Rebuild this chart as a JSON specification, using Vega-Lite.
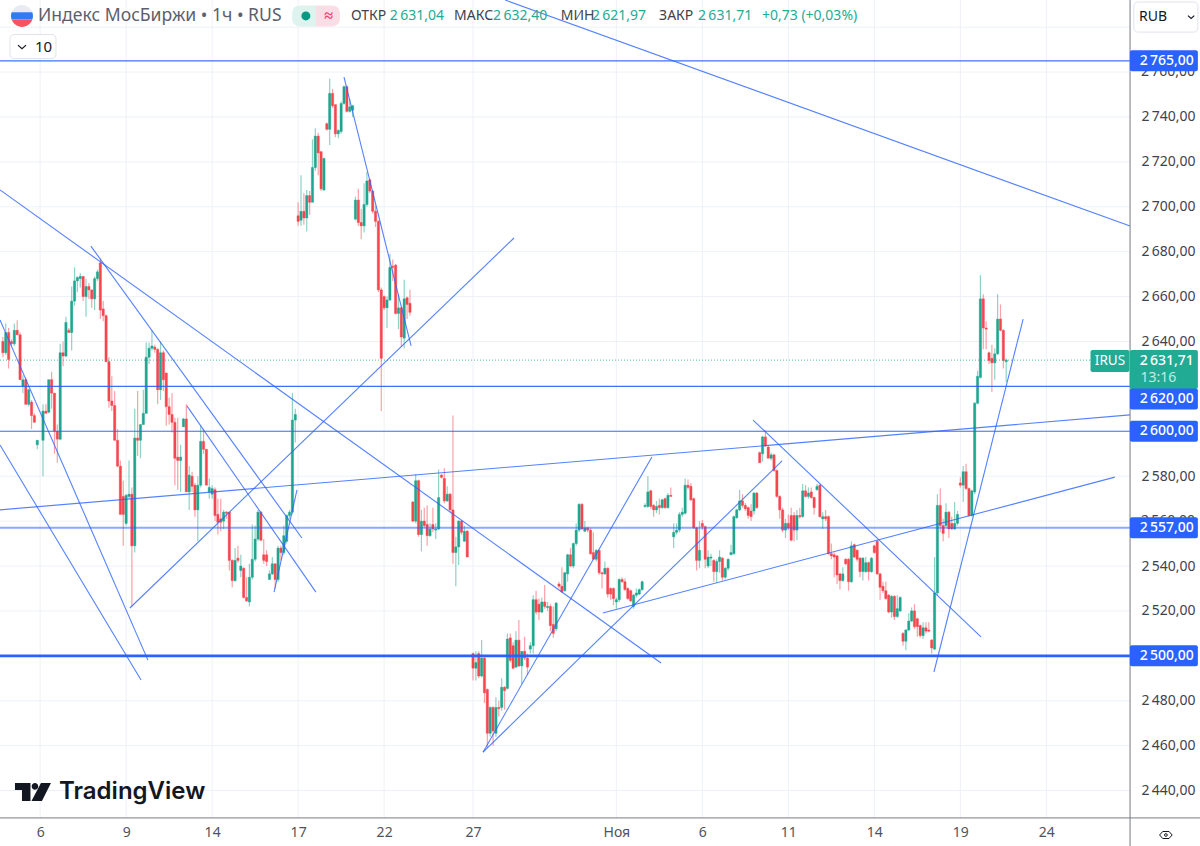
{
"$schema":"https://vega.github.io/schema/vega-lite/v6.json",
"width":1200,"height":846,"padding":0,"autosize":{"type":"fit","contains":"padding"},"background":"#ffffff",
"config":{"view":{"stroke":null},"font":"Noto Sans"},
"data":{"values":[{}]},
"datasets":{"bars":[
{"b":1,"o":2640,"c":2635,"h":2642,"l":2633},{"b":2,"o":2635,"c":2644,"h":2648,"l":2634},{"b":3,"o":2644,"c":2632,"h":2646,"l":2628},{"b":4,"o":2640,"c":2639,"h":2641,"l":2638},{"b":5,"o":2639,"c":2645,"h":2648,"l":2638},{"b":6,"o":2645,"c":2643,"h":2649.5,"l":2643},{"b":7,"o":2643,"c":2623,"h":2644,"l":2623},{"b":8,"o":2620,"c":2623,"h":2625,"l":2617},{"b":9,"o":2623,"c":2612,"h":2624,"l":2612},{"b":10,"o":2612,"c":2618.5,"h":2619,"l":2611},
{"b":11,"o":2613,"c":2607,"h":2614,"l":2601},{"b":12,"o":2607,"c":2604,"h":2608,"l":2604},{"b":13,"o":2594,"c":2596,"h":2596,"l":2592},{"b":15,"o":2596,"c":2609,"h":2612,"l":2580},{"b":16,"o":2609,"c":2608,"h":2612,"l":2608},{"b":17,"o":2608.5,"c":2623,"h":2623,"l":2608},{"b":18,"o":2623,"c":2617,"h":2626.5,"l":2610},{"b":19,"o":2617,"c":2600,"h":2617,"l":2590},{"b":20,"o":2600,"c":2596.5,"h":2603,"l":2586},
{"b":21,"o":2596.5,"c":2635,"h":2639,"l":2596},{"b":22,"o":2635,"c":2633.5,"h":2640,"l":2629},{"b":23,"o":2633.5,"c":2648.5,"h":2651,"l":2633},{"b":24,"o":2645,"c":2644,"h":2646,"l":2644},{"b":25,"o":2644,"c":2658,"h":2664.5,"l":2636},{"b":26,"o":2658,"c":2667,"h":2673,"l":2656},{"b":27,"o":2667,"c":2668.5,"h":2669,"l":2662},{"b":28,"o":2668,"c":2669,"h":2670.5,"l":2664},{"b":29,"o":2669,"c":2660,"h":2669,"l":2658},{"b":30,"o":2660,"c":2664.5,"h":2668,"l":2651},
{"b":31,"o":2664.5,"c":2663,"h":2666,"l":2659},{"b":32,"o":2663,"c":2659,"h":2663,"l":2655},{"b":33,"o":2659,"c":2668,"h":2669,"l":2654},{"b":34,"o":2668,"c":2671,"h":2672,"l":2667},{"b":35,"o":2675,"c":2654,"h":2677,"l":2650},{"b":36,"o":2654.5,"c":2651.5,"h":2658,"l":2649},{"b":37,"o":2651.5,"c":2631,"h":2652,"l":2631},{"b":38,"o":2631,"c":2613.5,"h":2633,"l":2610.5},{"b":39,"o":2613.5,"c":2611.5,"h":2624.5,"l":2609},{"b":40,"o":2611.5,"c":2596,"h":2618,"l":2596},
{"b":41,"o":2596,"c":2584.5,"h":2601,"l":2584},{"b":42,"o":2584.5,"c":2563,"h":2587,"l":2563},{"b":43,"o":2571,"c":2563,"h":2578,"l":2549},{"b":44,"o":2559,"c":2571.5,"h":2572,"l":2558},{"b":45,"o":2571,"c":2572,"h":2587,"l":2570},{"b":46,"o":2572,"c":2549,"h":2575,"l":2522},{"b":47,"o":2549,"c":2597,"h":2610,"l":2546},{"b":48,"o":2597,"c":2596,"h":2618,"l":2589},{"b":49,"o":2596,"c":2603,"h":2603,"l":2588},{"b":50,"o":2603,"c":2608,"h":2618.5,"l":2603},
{"b":51,"o":2608,"c":2633,"h":2639.5,"l":2608},{"b":52,"o":2633,"c":2637,"h":2639.5,"l":2630},{"b":53,"o":2637,"c":2638,"h":2645,"l":2636},{"b":54,"o":2637.5,"c":2636.5,"h":2638.5,"l":2635},{"b":55,"o":2636.5,"c":2618.5,"h":2637,"l":2612},{"b":56,"o":2618.5,"c":2635,"h":2640,"l":2614},{"b":57,"o":2635,"c":2623,"h":2636,"l":2618},{"b":58,"o":2626,"c":2611,"h":2626,"l":2602.5},{"b":59,"o":2611,"c":2607.5,"h":2615,"l":2603},{"b":60,"o":2607.5,"c":2604,"h":2617,"l":2599.5},
{"b":61,"o":2604,"c":2588,"h":2606,"l":2576},{"b":62,"o":2588.5,"c":2587,"h":2606,"l":2574},{"b":63,"o":2587,"c":2588.5,"h":2594,"l":2573},{"b":64,"o":2602,"c":2605.5,"h":2606,"l":2602},{"b":65,"o":2605.5,"c":2573,"h":2612,"l":2573},{"b":66,"o":2573,"c":2580.5,"h":2584.5,"l":2565},{"b":67,"o":2580,"c":2575.5,"h":2582,"l":2573},{"b":68,"o":2576,"c":2565,"h":2577,"l":2562},{"b":69,"o":2565,"c":2576,"h":2580,"l":2551},{"b":70,"o":2576,"c":2595.5,"h":2602.5,"l":2575},
{"b":71,"o":2595.5,"c":2592,"h":2601,"l":2590},{"b":72,"o":2592,"c":2576,"h":2592,"l":2576},{"b":73,"o":2573,"c":2575,"h":2579,"l":2570},{"b":74,"o":2572,"c":2574.5,"h":2576,"l":2570},{"b":75,"o":2574,"c":2562.5,"h":2575,"l":2560},{"b":76,"o":2563,"c":2559.5,"h":2570,"l":2554},{"b":77,"o":2561,"c":2559.5,"h":2570,"l":2555.5},{"b":78,"o":2560,"c":2564,"h":2565,"l":2556.5},{"b":79,"o":2564,"c":2563.5,"h":2564.5,"l":2561},{"b":80,"o":2564,"c":2542.5,"h":2564,"l":2538},
{"b":81,"o":2542.5,"c":2533.5,"h":2543,"l":2530.5},{"b":82,"o":2533.5,"c":2542.5,"h":2548,"l":2533},{"b":83,"o":2543.5,"c":2542.5,"h":2549,"l":2541.5},{"b":84,"o":2538,"c":2540,"h":2545,"l":2535},{"b":85,"o":2539,"c":2526,"h":2539.5,"l":2525.5},{"b":86,"o":2526,"c":2524.5,"h":2535,"l":2524},{"b":87,"o":2524,"c":2535,"h":2541,"l":2522},{"b":88,"o":2535,"c":2543,"h":2558.5,"l":2534},{"b":89,"o":2543,"c":2552,"h":2558,"l":2542},{"b":90,"o":2552,"c":2564,"h":2565,"l":2551},
{"b":91,"o":2564,"c":2551.5,"h":2564.5,"l":2551},{"b":92,"o":2545,"c":2542.5,"h":2552,"l":2541},{"b":93,"o":2545,"c":2542,"h":2547,"l":2540},{"b":94,"o":2534,"c":2536.5,"h":2538,"l":2534},{"b":95,"o":2536.5,"c":2541,"h":2544,"l":2536},{"b":96,"o":2541,"c":2534,"h":2541,"l":2530},{"b":97,"o":2534,"c":2548,"h":2549,"l":2533},{"b":98,"o":2548,"c":2546,"h":2549,"l":2542.5},{"b":99,"o":2546,"c":2553.5,"h":2558,"l":2545},{"b":100,"o":2551,"c":2562.5,"h":2563,"l":2550},
{"b":101,"o":2562.5,"c":2564,"h":2565,"l":2561},{"b":102,"o":2564,"c":2605,"h":2617,"l":2563},{"b":103,"o":2605,"c":2607.5,"h":2610,"l":2595},{"b":104,"o":2696,"c":2693.5,"h":2702,"l":2691.5},{"b":105,"o":2694,"c":2698,"h":2714,"l":2691.5},{"b":106,"o":2698,"c":2695,"h":2706,"l":2692},{"b":107,"o":2695,"c":2705,"h":2707.5,"l":2689},{"b":108,"o":2705,"c":2702,"h":2707,"l":2696.5},{"b":109,"o":2702,"c":2717.5,"h":2730,"l":2702},{"b":110,"o":2717.5,"c":2731.5,"h":2735,"l":2716},
{"b":111,"o":2731.5,"c":2724,"h":2733,"l":2714},{"b":112,"o":2724.5,"c":2708,"h":2725,"l":2707},{"b":113,"o":2707.5,"c":2721.5,"h":2722,"l":2707},{"b":114,"o":2737,"c":2734.5,"h":2737.5,"l":2734},{"b":115,"o":2734.5,"c":2750.5,"h":2757,"l":2727.5},{"b":116,"o":2750.5,"c":2745,"h":2752.5,"l":2744},{"b":117,"o":2745.5,"c":2732.5,"h":2745.5,"l":2731},{"b":118,"o":2732.5,"c":2734,"h":2734.5,"l":2730.5},{"b":119,"o":2733.5,"c":2746,"h":2747,"l":2732.5},{"b":120,"o":2746,"c":2753.5,"h":2754,"l":2745.5},
{"b":121,"o":2753.5,"c":2742.5,"h":2754,"l":2742},{"b":122,"o":2742.5,"c":2744.5,"h":2748,"l":2742},{"b":123,"o":2743,"c":2745,"h":2745.5,"l":2740},{"b":124,"o":2694.5,"c":2703,"h":2704.5,"l":2694},{"b":125,"o":2703,"c":2693,"h":2708,"l":2691.5},{"b":126,"o":2693,"c":2691.5,"h":2699,"l":2685.5},{"b":127,"o":2691.5,"c":2701,"h":2710.5,"l":2688.5},{"b":128,"o":2701,"c":2711.5,"h":2715.5,"l":2700},{"b":129,"o":2712,"c":2707,"h":2712.5,"l":2706},{"b":130,"o":2707,"c":2698,"h":2707.5,"l":2697},
{"b":131,"o":2698,"c":2693.5,"h":2700.5,"l":2691},{"b":132,"o":2693.5,"c":2663,"h":2694,"l":2662},{"b":133,"o":2663,"c":2632.5,"h":2664,"l":2609},{"b":134,"o":2660,"c":2655,"h":2660.5,"l":2654},{"b":135,"o":2655,"c":2658.5,"h":2660,"l":2646},{"b":136,"o":2658.5,"c":2673,"h":2679,"l":2658},{"b":137,"o":2673.5,"c":2673,"h":2676.5,"l":2667},{"b":138,"o":2674,"c":2652.5,"h":2674.5,"l":2652},{"b":139,"o":2652.5,"c":2655,"h":2661,"l":2645.5},{"b":140,"o":2655,"c":2642,"h":2655.5,"l":2637.5},
{"b":141,"o":2641.5,"c":2659,"h":2667.5,"l":2637},{"b":142,"o":2659.5,"c":2656.5,"h":2660,"l":2650},{"b":143,"o":2657,"c":2653,"h":2663,"l":2651.5},{"b":144,"o":2568.5,"c":2560,"h":2569,"l":2559.5},{"b":145,"o":2560,"c":2578,"h":2581,"l":2559},{"b":146,"o":2578,"c":2554,"h":2578.5,"l":2553},{"b":147,"o":2554,"c":2560,"h":2565,"l":2546.5},{"b":148,"o":2560,"c":2558,"h":2566,"l":2557},{"b":149,"o":2558.5,"c":2553.5,"h":2567,"l":2549},{"b":150,"o":2553.5,"c":2556.5,"h":2559,"l":2553},
{"b":151,"o":2558.5,"c":2556.5,"h":2566,"l":2555},{"b":152,"o":2556,"c":2556.5,"h":2559,"l":2552},{"b":153,"o":2556.5,"c":2570.5,"h":2583,"l":2556},{"b":154,"o":2580.5,"c":2579.5,"h":2581,"l":2579},{"b":155,"o":2579,"c":2569,"h":2583.5,"l":2568},{"b":156,"o":2569,"c":2572,"h":2575.5,"l":2568.5},{"b":157,"o":2572,"c":2565,"h":2572.5,"l":2564},{"b":158,"o":2565,"c":2546,"h":2607,"l":2541},{"b":159,"o":2546,"c":2548.5,"h":2553,"l":2531},{"b":160,"o":2548.5,"c":2560,"h":2560.5,"l":2540.5},
{"b":161,"o":2560,"c":2555,"h":2560.5,"l":2554},{"b":162,"o":2551,"c":2555.5,"h":2558,"l":2551},{"b":163,"o":2555.5,"c":2544,"h":2556,"l":2544},
{"b":165,"o":2501,"c":2494.5,"h":2501.5,"l":2489},{"b":166,"o":2494.5,"c":2497,"h":2502,"l":2489},{"b":167,"o":2501,"c":2491,"h":2502,"l":2490},{"b":168,"o":2491,"c":2499,"h":2507,"l":2490.5},{"b":169,"o":2499,"c":2483.5,"h":2499.5,"l":2479},{"b":170,"o":2485,"c":2465.5,"h":2485.5,"l":2459},
{"b":171,"o":2465.5,"c":2477,"h":2477.5,"l":2464},{"b":172,"o":2477,"c":2466.5,"h":2477.5,"l":2460},{"b":173,"o":2465.5,"c":2477,"h":2481.5,"l":2464},{"b":174,"o":2477,"c":2476.5,"h":2480,"l":2473},{"b":175,"o":2477,"c":2486,"h":2490,"l":2475.5},{"b":176,"o":2486,"c":2484.5,"h":2486.5,"l":2476},{"b":177,"o":2485.5,"c":2507.5,"h":2510,"l":2485},{"b":178,"o":2508,"c":2498,"h":2510,"l":2497},{"b":179,"o":2504.5,"c":2494.5,"h":2506,"l":2494},{"b":180,"o":2495,"c":2507,"h":2511,"l":2494.5},
{"b":181,"o":2507,"c":2495.5,"h":2516,"l":2495},{"b":182,"o":2495.5,"c":2502,"h":2502,"l":2487.5},{"b":183,"o":2502,"c":2499,"h":2508.5,"l":2498},{"b":184,"o":2499,"c":2495,"h":2501,"l":2491.5},{"b":185,"o":2503,"c":2504.5,"h":2506,"l":2501},{"b":186,"o":2504.5,"c":2525,"h":2527,"l":2501},{"b":187,"o":2525,"c":2519.5,"h":2529,"l":2518.5},{"b":188,"o":2523,"c":2519.5,"h":2525.5,"l":2516},{"b":189,"o":2519.5,"c":2524,"h":2526,"l":2519},{"b":190,"o":2524,"c":2522,"h":2531.5,"l":2521},
{"b":191,"o":2521.5,"c":2522,"h":2524,"l":2520},{"b":192,"o":2522,"c":2513.5,"h":2523,"l":2511},{"b":193,"o":2514,"c":2510,"h":2522,"l":2508},{"b":194,"o":2512,"c":2523.5,"h":2524,"l":2511},{"b":195,"o":2532,"c":2531,"h":2533,"l":2530},{"b":196,"o":2531,"c":2528.5,"h":2539.5,"l":2528},{"b":197,"o":2529,"c":2537,"h":2537.5,"l":2528.5},{"b":198,"o":2536.5,"c":2545,"h":2545.5,"l":2533},{"b":199,"o":2545,"c":2540,"h":2548,"l":2539.5},{"b":200,"o":2540,"c":2550,"h":2550.5,"l":2539},
{"b":201,"o":2550,"c":2556,"h":2559,"l":2549},{"b":202,"o":2556,"c":2567.5,"h":2568,"l":2555},{"b":203,"o":2567.5,"c":2556.5,"h":2568,"l":2556},{"b":204,"o":2555.5,"c":2557,"h":2560,"l":2555},{"b":205,"o":2557,"c":2556,"h":2557.5,"l":2555},{"b":206,"o":2556,"c":2545.5,"h":2557,"l":2545},{"b":207,"o":2546,"c":2543,"h":2555,"l":2543},{"b":208,"o":2543,"c":2547,"h":2547.5,"l":2542},{"b":209,"o":2547,"c":2537,"h":2547.5,"l":2536},{"b":210,"o":2537,"c":2536.5,"h":2537.5,"l":2530},
{"b":211,"o":2536.5,"c":2539,"h":2542,"l":2536},{"b":212,"o":2539,"c":2527.5,"h":2539.5,"l":2526},{"b":213,"o":2530,"c":2527.5,"h":2530.5,"l":2525},{"b":214,"o":2530,"c":2525.5,"h":2530.5,"l":2522.5},{"b":215,"o":2524,"c":2525,"h":2526,"l":2521},{"b":216,"o":2525,"c":2534,"h":2534.5,"l":2524},{"b":217,"o":2534,"c":2533,"h":2535,"l":2532.5},{"b":218,"o":2533,"c":2529.5,"h":2534.5,"l":2529},{"b":219,"o":2530,"c":2525.5,"h":2530.5,"l":2525},{"b":220,"o":2529,"c":2524.5,"h":2529.5,"l":2524},
{"b":221,"o":2522,"c":2527,"h":2527.5,"l":2521},{"b":222,"o":2527,"c":2528,"h":2530,"l":2526},{"b":223,"o":2527.5,"c":2529.5,"h":2530,"l":2527},{"b":224,"o":2529.5,"c":2533,"h":2533.5,"l":2529},{"b":225,"o":2566.5,"c":2567,"h":2568,"l":2566},{"b":226,"o":2566.5,"c":2573,"h":2580,"l":2566},{"b":227,"o":2573.5,"c":2566.5,"h":2574,"l":2565.5},{"b":228,"o":2567,"c":2565,"h":2567.5,"l":2562},{"b":229,"o":2565,"c":2566.5,"h":2569,"l":2563.5},{"b":230,"o":2567,"c":2566,"h":2570,"l":2563},
{"b":231,"o":2566,"c":2569.5,"h":2570,"l":2565.5},{"b":232,"o":2570,"c":2566,"h":2570.5,"l":2565.5},{"b":233,"o":2566,"c":2571.5,"h":2572.5,"l":2565.5},{"b":234,"o":2571.5,"c":2571,"h":2575,"l":2571},{"b":235,"o":2553,"c":2555,"h":2559,"l":2548},{"b":236,"o":2555,"c":2556,"h":2559,"l":2554},{"b":237,"o":2556,"c":2563,"h":2564,"l":2555},{"b":238,"o":2563,"c":2564,"h":2566,"l":2562},{"b":239,"o":2563.5,"c":2576,"h":2579,"l":2563},{"b":240,"o":2576,"c":2575,"h":2578.5,"l":2574},
{"b":241,"o":2575.5,"c":2569.5,"h":2577,"l":2569},{"b":242,"o":2570,"c":2557,"h":2570.5,"l":2556.5},{"b":243,"o":2557,"c":2542.5,"h":2557.5,"l":2538},{"b":244,"o":2542.5,"c":2547,"h":2560,"l":2539},{"b":245,"o":2559,"c":2557.5,"h":2560.5,"l":2556},{"b":246,"o":2557.5,"c":2543,"h":2558,"l":2539},{"b":247,"o":2540,"c":2544,"h":2547,"l":2539},{"b":248,"o":2543.5,"c":2544,"h":2545.5,"l":2540},{"b":249,"o":2542.5,"c":2537.5,"h":2543,"l":2533},{"b":250,"o":2537.5,"c":2542,"h":2543,"l":2532.5},
{"b":251,"o":2542,"c":2544,"h":2547,"l":2537},{"b":252,"o":2543.5,"c":2535,"h":2544,"l":2533.5},{"b":253,"o":2535,"c":2539,"h":2539.5,"l":2534},{"b":254,"o":2539,"c":2543,"h":2543.5,"l":2538},{"b":255,"o":2545,"c":2546,"h":2549.5,"l":2545},{"b":256,"o":2545.5,"c":2562,"h":2562.5,"l":2545},{"b":257,"o":2561.5,"c":2565,"h":2565.5,"l":2561},{"b":258,"o":2565,"c":2569,"h":2574,"l":2564.5},{"b":259,"o":2569,"c":2567,"h":2572,"l":2566},{"b":260,"o":2567,"c":2565.5,"h":2568,"l":2564.5},
{"b":261,"o":2566,"c":2562.5,"h":2566.5,"l":2561},{"b":262,"o":2564.5,"c":2562,"h":2567.5,"l":2560},{"b":263,"o":2564.5,"c":2572.5,"h":2573,"l":2563},{"b":264,"o":2572.5,"c":2566,"h":2573,"l":2565.5},{"b":265,"o":2590.5,"c":2586,"h":2591,"l":2586},{"b":266,"o":2590,"c":2597.5,"h":2598,"l":2586.5},{"b":267,"o":2597.5,"c":2593.5,"h":2600.5,"l":2593},{"b":268,"o":2593,"c":2588,"h":2594,"l":2588},{"b":269,"o":2588,"c":2589.5,"h":2590.5,"l":2587},{"b":270,"o":2589.5,"c":2582.5,"h":2590,"l":2582},
{"b":271,"o":2582.5,"c":2571,"h":2583,"l":2570.5},{"b":272,"o":2571,"c":2565,"h":2571.5,"l":2561},{"b":273,"o":2565,"c":2556,"h":2566,"l":2555},{"b":274,"o":2556,"c":2559,"h":2561,"l":2552.5},{"b":275,"o":2559,"c":2557,"h":2563,"l":2556},{"b":276,"o":2562.5,"c":2551.5,"h":2566,"l":2551},{"b":277,"o":2562.5,"c":2556,"h":2564,"l":2551},{"b":278,"o":2556,"c":2562.5,"h":2565,"l":2551.5},{"b":279,"o":2562.5,"c":2562,"h":2566,"l":2561},{"b":280,"o":2562,"c":2573.5,"h":2576.5,"l":2561.5},
{"b":281,"o":2573.5,"c":2571,"h":2576,"l":2570.5},{"b":282,"o":2571,"c":2572.5,"h":2575,"l":2570},{"b":283,"o":2573,"c":2570.5,"h":2575,"l":2570},{"b":284,"o":2570.5,"c":2566,"h":2571,"l":2563},{"b":285,"o":2574,"c":2575.5,"h":2576.5,"l":2573.5},{"b":286,"o":2576,"c":2562,"h":2576.5,"l":2561.5},{"b":287,"o":2561,"c":2562,"h":2564,"l":2556.5},{"b":288,"o":2562,"c":2561,"h":2565,"l":2560},{"b":289,"o":2562,"c":2545.5,"h":2562.5,"l":2545},{"b":290,"o":2545.5,"c":2544.5,"h":2550,"l":2543},
{"b":291,"o":2545,"c":2544,"h":2546,"l":2535},{"b":292,"o":2544.5,"c":2536,"h":2545,"l":2532},{"b":293,"o":2536.5,"c":2533.5,"h":2537,"l":2529.5},{"b":294,"o":2533.5,"c":2536.5,"h":2539.5,"l":2533},{"b":295,"o":2543,"c":2541,"h":2543.5,"l":2540.5},{"b":296,"o":2543,"c":2533,"h":2543.5,"l":2529},{"b":297,"o":2533,"c":2549,"h":2551,"l":2532.5},{"b":298,"o":2549.5,"c":2544,"h":2550,"l":2543.5},{"b":299,"o":2547,"c":2543,"h":2547.5,"l":2542},{"b":300,"o":2543.5,"c":2537.5,"h":2544,"l":2535},
{"b":301,"o":2537.5,"c":2543.5,"h":2544,"l":2533.5},{"b":302,"o":2537.5,"c":2541.5,"h":2544,"l":2537},{"b":303,"o":2541.5,"c":2537.5,"h":2542,"l":2533.5},{"b":304,"o":2537.5,"c":2543.5,"h":2544,"l":2537},{"b":305,"o":2549,"c":2546,"h":2549.5,"l":2545.5},{"b":306,"o":2551,"c":2536.5,"h":2551.5,"l":2536},{"b":307,"o":2536.5,"c":2530.5,"h":2537,"l":2525},{"b":308,"o":2531,"c":2529,"h":2533,"l":2528},{"b":309,"o":2529,"c":2525.5,"h":2533,"l":2525},{"b":310,"o":2527,"c":2519.5,"h":2527.5,"l":2519},
{"b":311,"o":2519.5,"c":2526.5,"h":2527,"l":2517},{"b":312,"o":2526.5,"c":2517.5,"h":2527,"l":2516},{"b":313,"o":2517.5,"c":2521,"h":2527,"l":2517},{"b":314,"o":2520,"c":2526,"h":2526.5,"l":2519.5},{"b":315,"o":2510,"c":2506.5,"h":2510.5,"l":2504.5},{"b":316,"o":2506.5,"c":2511.5,"h":2512,"l":2502.5},{"b":317,"o":2511.5,"c":2515.5,"h":2519,"l":2511},{"b":318,"o":2515.5,"c":2520,"h":2521.5,"l":2515},{"b":319,"o":2520,"c":2513,"h":2523,"l":2512},{"b":320,"o":2516.5,"c":2513,"h":2517,"l":2508.5},
{"b":321,"o":2513.5,"c":2509,"h":2514,"l":2508},{"b":322,"o":2509,"c":2512.5,"h":2515,"l":2507.5},{"b":323,"o":2512.5,"c":2511,"h":2515,"l":2510},{"b":324,"o":2511.5,"c":2511,"h":2515,"l":2510.5},{"b":325,"o":2507,"c":2503.5,"h":2507.5,"l":2501},{"b":326,"o":2503,"c":2528,"h":2544,"l":2502.5},{"b":327,"o":2528,"c":2567,"h":2572,"l":2527},{"b":328,"o":2567,"c":2558,"h":2574.5,"l":2555},{"b":329,"o":2558,"c":2554.5,"h":2561,"l":2551},{"b":330,"o":2558,"c":2564,"h":2568,"l":2557.5},
{"b":331,"o":2564,"c":2556.5,"h":2564.5,"l":2552.5},{"b":332,"o":2559,"c":2556.5,"h":2562,"l":2556},{"b":333,"o":2556.5,"c":2559,"h":2568.5,"l":2556},{"b":334,"o":2559,"c":2563,"h":2564.5,"l":2558},{"b":335,"o":2577,"c":2576,"h":2579.5,"l":2575},{"b":336,"o":2576,"c":2582,"h":2584.5,"l":2568.5},{"b":337,"o":2582,"c":2574.5,"h":2585.5,"l":2574},{"b":338,"o":2574.5,"c":2562.5,"h":2575,"l":2562},{"b":339,"o":2562.5,"c":2573.5,"h":2574,"l":2562},{"b":340,"o":2573,"c":2612.5,"h":2613,"l":2572},
{"b":341,"o":2612.5,"c":2624.5,"h":2627,"l":2612},{"b":342,"o":2624,"c":2659,"h":2669.5,"l":2623.5},{"b":343,"o":2659,"c":2646,"h":2661,"l":2636.5},{"b":344,"o":2646,"c":2645.5,"h":2649,"l":2636.5},{"b":345,"o":2635,"c":2631.5,"h":2635.5,"l":2630},{"b":346,"o":2632.5,"c":2630.5,"h":2638.5,"l":2617.5},{"b":347,"o":2630.5,"c":2634.5,"h":2637,"l":2623},{"b":348,"o":2634.5,"c":2650,"h":2661,"l":2634},{"b":349,"o":2650,"c":2645,"h":2656.5,"l":2644.5},{"b":350,"o":2645,"c":2631.5,"h":2645.5,"l":2628},
{"b":351,"o":2631.04,"c":2631.71,"h":2632.4,"l":2621.97}
]},
"layer":[
{"data":{"values":[{"p":2440},{"p":2460},{"p":2480},{"p":2500},{"p":2520},{"p":2540},{"p":2560},{"p":2580},{"p":2600},{"p":2620},{"p":2640},{"p":2660},{"p":2680},{"p":2700},{"p":2720},{"p":2740},{"p":2760},{"p":2780}]},
"mark":{"type":"rule","color":"#edf1f7","clip":true},"encoding":{
"x":{"datum":0,"type":"quantitative"},"x2":{"datum":394.2},
"y":{"field":"p","type":"quantitative"}}},
{"data":{"values":[{"b":14},{"b":44},{"b":74},{"b":104},{"b":134},{"b":165},{"b":215},{"b":245},{"b":275},{"b":305},{"b":335},{"b":365}]},
"mark":{"type":"rule","color":"#edf1f7","clip":true},"encoding":{
"x":{"field":"b","type":"quantitative"},
"y":{"datum":2427.8,"type":"quantitative"},"y2":{"datum":2792.1}}},
{"data":{"name":"bars"},"mark":{"type":"rule","strokeWidth":1.2,"opacity":0.5},"encoding":{
"x":{"field":"b","type":"quantitative","scale":{"domain":[0,418.6],"nice":false,"zero":false,"padding":0},
"axis":{"title":null,"orient":"bottom","offset":-28,"values":[14,44,74,104,134,165,215,245,275,305,335,365],
"labelExpr":"{'14':'6','44':'9','74':'14','104':'17','134':'22','165':'27','215':'Ноя','245':'6','275':'11','305':'14','335':'19','365':'24'}[datum.value]",
"labelFontSize":14,"labelColor":"#50535e","labelPadding":7,"labelFont":"Noto Sans","labelOverlap":false,"labelFlush":false,"ticks":false,"domain":false,"grid":false,"zindex":1}},
"y":{"field":"l","type":"quantitative","scale":{"domain":[2415.3,2792.1],"nice":false,"zero":false,"padding":0},
"axis":{"title":null,"orient":"right","offset":-70,"values":[2440,2460,2480,2520,2540,2580,2640,2660,2680,2700,2720,2740],
"labelExpr":"replace(replace(format(datum.value,',.2f'),',','\u2009'),'.',',')",
"labelFontSize":14,"labelColor":"#3f424d","labelPadding":11,"labelFont":"Noto Sans","labelOverlap":false,"labelFlush":false,"ticks":false,"domain":false,"grid":false,"zindex":1}},
"y2":{"field":"h"},
"color":{"condition":{"test":"datum.c>=datum.o","value":"#1fa690"},"value":"#f5464f"}}},
{"data":{"name":"bars"},"mark":{"type":"bar","size":2.3,"strokeWidth":0.4},"encoding":{
"x":{"field":"b","type":"quantitative"},
"y":{"field":"o","type":"quantitative"},"y2":{"field":"c"},
"color":{"condition":{"test":"datum.c>=datum.o","value":"#1fa690"},"value":"#f5464f"},
"stroke":{"condition":{"test":"datum.c>=datum.o","value":"#1fa690"},"value":"#f5464f"}}},
{"mark":{"type":"rule","color":"#22ab94","strokeDash":[1,2],"opacity":0.8,"clip":true},"encoding":{
"x":{"datum":0,"type":"quantitative"},"x2":{"datum":394.2},
"y":{"datum":2631.71,"type":"quantitative"}}},
{"data":{"values":[
{"b1":176.2,"p1":2792.1,"b2":394.2,"p2":2691.4},{"b1":0,"p1":2707.5,"b2":230.6,"p2":2496.8},{"b1":31.7,"p1":2682.5,"b2":105.3,"p2":2552.5},{"b1":65.2,"p1":2611.3,"b2":110.2,"p2":2528.4},{"b1":0,"p1":2649.6,"b2":51.6,"p2":2498.1},{"b1":0,"p1":2593.9,"b2":49.2,"p2":2489.2},{"b1":0,"p1":2565,"b2":394.2,"p2":2607.3},{"b1":45.3,"p1":2521.3,"b2":179.3,"p2":2686.1},{"b1":120,"p1":2757.8,"b2":143.4,"p2":2638},{"b1":168.5,"p1":2457.1,"b2":227.4,"p2":2588.6},{"b1":168.5,"p1":2457.1,"b2":272.8,"p2":2586.8},{"b1":210.3,"p1":2519.1,"b2":388.9,"p2":2579.6},{"b1":262.7,"p1":2605,"b2":342.2,"p2":2508.4},{"b1":325.8,"p1":2492.8,"b2":356.9,"p2":2650},{"b1":95.6,"p1":2528.4,"b2":103.6,"p2":2573.9}
]},"mark":{"type":"rule","color":"#2962ff","strokeWidth":1.1,"opacity":0.8,"clip":true},"encoding":{
"x":{"field":"b1","type":"quantitative"},"x2":{"field":"b2"},
"y":{"field":"p1","type":"quantitative"},"y2":{"field":"p2"}}},
{"data":{"values":[{"p":2765},{"p":2620},{"p":2600}]},"mark":{"type":"rule","color":"#2962ff","strokeWidth":1.1,"opacity":0.9,"clip":true},"encoding":{
"x":{"datum":0,"type":"quantitative"},"x2":{"datum":394.2},
"y":{"field":"p","type":"quantitative"}}},
{"data":{"values":[{"p":2557}]},"mark":{"type":"rule","color":"#2962ff","strokeWidth":2,"opacity":0.55,"clip":true},"encoding":{
"x":{"datum":0,"type":"quantitative"},"x2":{"datum":394.2},
"y":{"field":"p","type":"quantitative"}}},
{"data":{"values":[{"p":2500}]},"mark":{"type":"rule","color":"#2962ff","strokeWidth":2.6,"clip":true},"encoding":{
"x":{"datum":0,"type":"quantitative"},"x2":{"datum":394.2},
"y":{"field":"p","type":"quantitative"}}},
{"mark":{"type":"rule","color":"#787b86","clip":true},"encoding":{
"x":{"datum":0,"type":"quantitative"},"x2":{"datum":418.6},
"y":{"datum":2427.8,"type":"quantitative"}}},
{"mark":{"type":"rule","color":"#787b86","clip":true},"encoding":{
"x":{"datum":394.2,"type":"quantitative"},
"y":{"datum":2415.3,"type":"quantitative"},"y2":{"datum":2792.1}}},
{"data":{"values":[{"p":2760,"t":"2\u2009760,00"},{"p":2560,"t":"2\u2009560,00"}]},"mark":{"type":"text","align":"left","color":"#3f424d","fontSize":14},"encoding":{
"x":{"datum":398,"type":"quantitative"},"y":{"field":"p","type":"quantitative"},"text":{"field":"t"}}},
{"mark":{"type":"tick","orient":"horizontal","size":68,"thickness":39,"color":"#22ab94","opacity":1,"cornerRadius":2},"encoding":{
"x":{"datum":406,"type":"quantitative"},"y":{"datum":2627.5,"type":"quantitative"}}},
{"mark":{"type":"tick","orient":"horizontal","size":39,"thickness":22,"color":"#22ab94","opacity":1,"cornerRadius":2},"encoding":{
"x":{"datum":387.2,"type":"quantitative"},"y":{"datum":2631.3,"type":"quantitative"}}},
{"data":{"values":[{"p":2765,"t":"2\u2009765,00"},{"p":2614.4,"t":"2\u2009620,00"},{"p":2600,"t":"2\u2009600,00"},{"p":2557,"t":"2\u2009557,00"},{"p":2500,"t":"2\u2009500,00"}]},
"layer":[
{"mark":{"type":"tick","orient":"horizontal","size":68,"thickness":21,"color":"#2962ff","opacity":1,"cornerRadius":2},"encoding":{
"x":{"datum":406,"type":"quantitative"},"y":{"field":"p","type":"quantitative"}}},
{"mark":{"type":"text","color":"#ffffff","fontSize":14,"fontWeight":500},"encoding":{
"x":{"datum":407,"type":"quantitative"},"y":{"field":"p","type":"quantitative"},"text":{"field":"t"}}}]},
{"mark":{"type":"text","color":"#ffffff","fontSize":14,"fontWeight":500,"text":"2\u2009631,71"},"encoding":{
"x":{"datum":407,"type":"quantitative"},"y":{"datum":2631.5,"type":"quantitative"}}},
{"mark":{"type":"text","color":"#c3ece4","fontSize":14,"text":"13:16"},"encoding":{
"x":{"datum":404.1,"type":"quantitative"},"y":{"datum":2623.8,"type":"quantitative"}}},
{"mark":{"type":"text","color":"#ffffff","fontSize":13.5,"text":"IRUS"},"encoding":{
"x":{"datum":387.2,"type":"quantitative"},"y":{"datum":2631.3,"type":"quantitative"}}},
{"mark":{"type":"point","filled":true,"size":484,"opacity":1,"color":"#e8ecf2","shape":"M-0.943,-0.33 A1,1 0 0 1 0.943,-0.33 Z"},"encoding":{
"x":{"datum":7.67,"type":"quantitative"},"y":{"datum":2785,"type":"quantitative"}}},
{"mark":{"type":"point","filled":true,"size":484,"opacity":1,"color":"#2f7bf0","shape":"M-0.943,-0.33 L0.943,-0.33 A1,1 0 0 1 0.943,0.33 L-0.943,0.33 A1,1 0 0 1 -0.943,-0.33 Z"},"encoding":{
"x":{"datum":7.67,"type":"quantitative"},"y":{"datum":2785,"type":"quantitative"}}},
{"mark":{"type":"point","filled":true,"size":484,"opacity":1,"color":"#f7525f","shape":"M-0.943,0.33 A1,1 0 0 0 0.943,0.33 Z"},"encoding":{
"x":{"datum":7.67,"type":"quantitative"},"y":{"datum":2785,"type":"quantitative"}}},
{"mark":{"type":"text","align":"left","color":"#5d606b","fontSize":17.6,"text":"Индекс МосБиржи • 1ч • RUS"},"encoding":{
"x":{"datum":13.26,"type":"quantitative"},"y":{"datum":2785,"type":"quantitative"}}},
{"mark":{"type":"point","filled":true,"size":576,"opacity":1,"color":"#dff3ee","shape":"M1,-0.875 L-0.3,-0.875 Q-1,-0.875 -1,-0.175 L-1,0.175 Q-1,0.875 -0.3,0.875 L1,0.875 Z"},"encoding":{
"x":{"datum":106.05,"type":"quantitative"},"y":{"datum":2785,"type":"quantitative"}}},
{"mark":{"type":"point","filled":true,"size":576,"opacity":1,"color":"#fbdde6","shape":"M-1,-0.875 L0.3,-0.875 Q1,-0.875 1,-0.175 L1,0.175 Q1,0.875 0.3,0.875 L-1,0.875 Z"},"encoding":{
"x":{"datum":114.4,"type":"quantitative"},"y":{"datum":2785,"type":"quantitative"}}},
{"mark":{"type":"point","filled":true,"size":80,"opacity":1,"color":"#089981","shape":"circle"},"encoding":{
"x":{"datum":106.7,"type":"quantitative"},"y":{"datum":2785,"type":"quantitative"}}},
{"mark":{"type":"text","color":"#f23a6e","fontSize":16,"fontWeight":700,"text":"≈"},"encoding":{
"x":{"datum":114.6,"type":"quantitative"},"y":{"datum":2785,"type":"quantitative"}}},
{"data":{"values":[{"b":122.4,"t":"ОТКР"},{"b":158.4,"t":"МАКС"},{"b":195.6,"t":"МИН"},{"b":229.9,"t":"ЗАКР"}]},
"mark":{"type":"text","align":"left","color":"#3f424d","fontSize":14},"encoding":{
"x":{"field":"b","type":"quantitative"},"y":{"datum":2785,"type":"quantitative"},"text":{"field":"t"}}},
{"data":{"values":[{"b":136,"t":"2\u2009631,04"},{"b":172,"t":"2\u2009632,40"},{"b":206.5,"t":"2\u2009621,97"},{"b":243.5,"t":"2\u2009631,71"},{"b":265.8,"t":"+0,73 (+0,03%)"}]},
"mark":{"type":"text","align":"left","color":"#22ab94","fontSize":14},"encoding":{
"x":{"field":"b","type":"quantitative"},"y":{"datum":2785,"type":"quantitative"},"text":{"field":"t"}}},
{"mark":{"type":"tick","orient":"horizontal","size":46,"thickness":24,"color":"#ffffff","stroke":"#e0e3eb","strokeWidth":1,"opacity":1,"cornerRadius":4},"encoding":{
"x":{"datum":11.5,"type":"quantitative"},"y":{"datum":2771.4,"type":"quantitative"}}},
{"mark":{"type":"point","filled":false,"size":81,"opacity":1,"color":"#131722","strokeWidth":1.2,"shape":"M-0.9,-0.4 L0,0.4 L0.9,-0.4"},"encoding":{
"x":{"datum":7.67,"type":"quantitative"},"y":{"datum":2771.2,"type":"quantitative"}}},
{"mark":{"type":"text","align":"left","color":"#131722","fontSize":15,"text":"10"},"encoding":{
"x":{"datum":12.2,"type":"quantitative"},"y":{"datum":2771.2,"type":"quantitative"}}},
{"mark":{"type":"tick","orient":"horizontal","size":64,"thickness":30,"color":"#ffffff","stroke":"#e0e3eb","strokeWidth":1,"opacity":1,"cornerRadius":4},"encoding":{
"x":{"datum":406.7,"type":"quantitative"},"y":{"datum":2784.5,"type":"quantitative"}}},
{"mark":{"type":"text","align":"left","color":"#131722","fontSize":14,"text":"RUB"},"encoding":{
"x":{"datum":397.3,"type":"quantitative"},"y":{"datum":2784.5,"type":"quantitative"}}},
{"mark":{"type":"point","filled":false,"size":49,"opacity":1,"color":"#131722","strokeWidth":1.2,"shape":"M-0.9,-0.4 L0,0.4 L0.9,-0.4"},"encoding":{
"x":{"datum":415.5,"type":"quantitative"},"y":{"datum":2784.5,"type":"quantitative"}}},
{"mark":{"type":"point","filled":false,"size":196,"opacity":1,"color":"#131722","strokeWidth":1,"shape":"M-0.45,-0.5 L0.45,-0.5 L0.9,0 L0.45,0.5 L-0.45,0.5 L-0.9,0 Z M0.2,0 A0.2,0.2 0 1 1 -0.2,0 A0.2,0.2 0 1 1 0.2,0 Z"},"encoding":{
"x":{"datum":406.7,"type":"quantitative"},"y":{"datum":2420.2,"type":"quantitative"}}},
{"mark":{"type":"point","filled":true,"size":1296,"opacity":1,"color":"#131722","shape":"M-1,-0.5 L-0.139,-0.5 L-0.139,0.5 L-0.611,0.5 L-0.611,-0.111 L-1,-0.111 Z M0.294,-0.306 A0.183,0.183 0 1 1 -0.072,-0.306 A0.183,0.183 0 1 1 0.294,-0.306 Z M0.444,-0.5 L1,-0.5 L0.5,0.5 L-0.083,0.5 Z"},"encoding":{
"x":{"datum":11.5,"type":"quantitative"},"y":{"datum":2439.4,"type":"quantitative"}}},
{"mark":{"type":"text","align":"left","color":"#131722","font":"Inter","fontSize":24,"fontWeight":600,"text":"TradingView"},"encoding":{
"x":{"datum":20.6,"type":"quantitative"},"y":{"datum":2439.4,"type":"quantitative"}}}
]}
